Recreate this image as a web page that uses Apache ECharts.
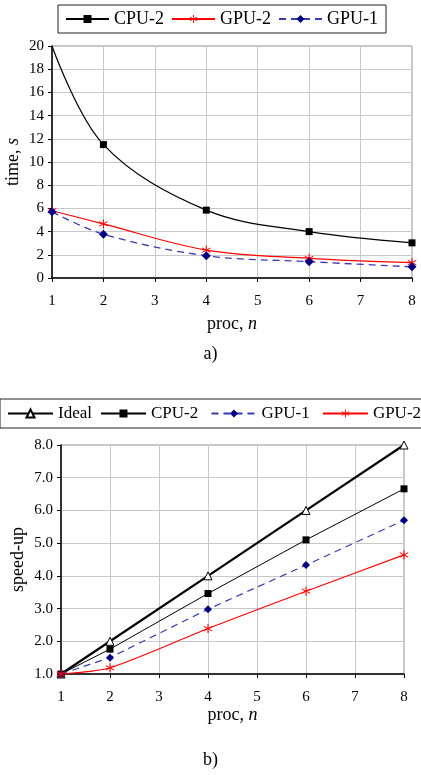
<!DOCTYPE html>
<html>
<head>
<meta charset="utf-8">
<script src="https://cdn.jsdelivr.net/npm/echarts@6/dist/echarts.min.js"></script>
<style>
  html, body { margin: 0; padding: 0; background: #fff; }
  #chart { width: 421px; height: 775px; }
</style>
</head>
<body>
<div id="chart"></div>
<script>
// processors on the x axis
var procs = [1, 2, 4, 6, 8];

// a) execution time, s
var timeCpu2 = [20, 11.5, 5.85, 4.0, 3.03];
var timeGpu2 = [5.8, 4.66, 2.41, 1.7, 1.32];
var timeGpu1 = [5.72, 3.77, 1.92, 1.41, 0.96];

// b) speed-up
var spIdeal = [1, 2, 4, 6, 8];
var spCpu2 = [1, 1.76, 3.46, 5.1, 6.66];
var spGpu1 = [1, 1.5, 2.98, 4.33, 5.7];
var spGpu2 = [1, 1.19, 2.39, 3.53, 4.64];

var FONT = '"Liberation Serif", "DejaVu Serif", serif';
var ASTERISK = 'path://M4.5 0L5.5 0L5.5 10L4.5 10Z' +
    'M1.265 2.076L9.265 7.076L8.735 7.924L0.735 2.924Z' +
    'M8.735 2.076L9.265 2.924L1.265 7.924L0.735 7.076Z';

function pairs(xs, ys) {
    return xs.map(function (x, i) { return [x, ys[i]]; });
}

function xAxisFor(gridIndex, gap) {
    return {
        gridIndex: gridIndex, type: 'value', min: 1, max: 8, interval: 1,
        name: 'proc, {i|n}', nameLocation: 'middle', nameGap: gap,
        nameTextStyle: {fontFamily: FONT, fontSize: 18, color: '#000',
            rich: {i: {fontFamily: FONT, fontSize: 18, fontStyle: 'italic', color: '#000'}}},
        axisLine: {lineStyle: {color: '#000', width: 1.5}},
        axisTick: {show: true, length: 4, lineStyle: {color: '#000'}},
        axisLabel: {fontFamily: FONT, fontSize: 15, color: '#000', margin: 16},
        splitLine: {show: true, lineStyle: {color: '#c8c8c8', width: 1}}
    };
}

function yAxisFor(gridIndex, min, max, interval, name, gap, fmt) {
    return {
        gridIndex: gridIndex, type: 'value', min: min, max: max, interval: interval,
        name: name, nameLocation: 'middle', nameGap: gap, nameMoveOverlap: false,
        nameTextStyle: {fontFamily: FONT, fontSize: 18, color: '#000',
            rich: {i: {fontFamily: FONT, fontSize: 18, fontStyle: 'italic', color: '#000'}}},
        axisLine: {show: true, lineStyle: {color: '#000', width: 1.5}},
        axisTick: {show: true, length: 4, lineStyle: {color: '#000'}},
        axisLabel: {fontFamily: FONT, fontSize: 15, color: '#000', margin: 8, formatter: fmt},
        splitLine: {show: true, lineStyle: {color: '#c8c8c8', width: 1}}
    };
}

var cpuTime = pairs(procs, timeCpu2);
cpuTime[0] = {value: cpuTime[0], symbol: 'none'};

var chart = echarts.init(document.getElementById('chart'));
var option = {
    animation: false,
    backgroundColor: '#fff',
    title: [
        {text: 'a)', left: 'center', top: 340, textStyle: {fontFamily: FONT, fontSize: 18, fontWeight: 'normal', color: '#000'}},
        {text: 'b)', left: 'center', top: 746, textStyle: {fontFamily: FONT, fontSize: 18, fontWeight: 'normal', color: '#000'}}
    ],
    legend: [
        {
            left: 58, top: 5, padding: [5, 8, 5, 7], itemGap: 7, itemWidth: 43, itemHeight: 10,
            borderColor: '#222', borderWidth: 1,
            textStyle: {fontFamily: FONT, fontSize: 18, color: '#000'},
            data: ['CPU-2', 'GPU-2', 'GPU-1']
        },
        {
            left: 0, top: 399, width: 440, padding: [6, 6, 6, 7], itemGap: 8, itemWidth: 45, itemHeight: 10,
            borderColor: '#222', borderWidth: 1,
            textStyle: {fontFamily: FONT, fontSize: 17, color: '#000'},
            data: ['Ideal', 'CPU-2 ', 'GPU-1 ', 'GPU-2 ']
        }
    ],
    grid: [
        {left: 52, right: 9, top: 46, bottom: 497, outerBoundsMode: 'none', show: true, borderColor: '#909090', borderWidth: 1},
        {left: 61, right: 17, top: 445, bottom: 101, outerBoundsMode: 'none', show: true, borderColor: '#909090', borderWidth: 1}
    ],
    xAxis: [xAxisFor(0, 37), xAxisFor(1, 29)],
    yAxis: [
        yAxisFor(0, 0, 20, 2, 'time, {i|s}', 30, null),
        yAxisFor(1, 1, 8, 1, 'speed-up', 34, function (v) { return v.toFixed(1); })
    ],
    series: [
        {
            name: 'CPU-2', type: 'line', xAxisIndex: 0, yAxisIndex: 0, smooth: 0.35,
            data: cpuTime, symbol: 'rect', symbolSize: 7,
            lineStyle: {color: '#000', width: 1.2}, itemStyle: {color: '#000'}
        },
        {
            name: 'GPU-2', type: 'line', xAxisIndex: 0, yAxisIndex: 0, smooth: 0.35,
            data: pairs(procs, timeGpu2), symbol: ASTERISK, symbolSize: 9,
            lineStyle: {color: '#ff0000', width: 1.2}, itemStyle: {color: '#ff0000'}
        },
        {
            name: 'GPU-1', type: 'line', xAxisIndex: 0, yAxisIndex: 0, smooth: 0.35,
            data: pairs(procs, timeGpu1), symbol: 'diamond', symbolSize: 9,
            lineStyle: {color: '#3b3bb0', width: 1.3, type: [7, 5]}, itemStyle: {color: '#000080'}
        },
        {
            name: 'Ideal', type: 'line', xAxisIndex: 1, yAxisIndex: 1,
            data: pairs(procs, spIdeal), symbol: 'triangle', symbolSize: 8,
            lineStyle: {color: '#000', width: 2.2}, itemStyle: {color: '#fff', borderColor: '#000', borderWidth: 1}
        },
        {
            name: 'CPU-2 ', type: 'line', xAxisIndex: 1, yAxisIndex: 1,
            data: pairs(procs, spCpu2), symbol: 'rect', symbolSize: 7,
            lineStyle: {color: '#000', width: 1}, itemStyle: {color: '#000'}
        },
        {
            name: 'GPU-1 ', type: 'line', xAxisIndex: 1, yAxisIndex: 1,
            data: pairs(procs, spGpu1), symbol: 'diamond', symbolSize: 8,
            lineStyle: {color: '#3b3bb0', width: 1.2, type: [7, 5]}, itemStyle: {color: '#000080'}
        },
        {
            name: 'GPU-2 ', type: 'line', xAxisIndex: 1, yAxisIndex: 1, smooth: 0.25,
            data: pairs(procs, spGpu2), symbol: ASTERISK, symbolSize: 9,
            lineStyle: {color: '#ff0000', width: 1.2}, itemStyle: {color: '#ff0000'}
        }
    ]
};
chart.setOption(option);
</script>
</body>
</html>
